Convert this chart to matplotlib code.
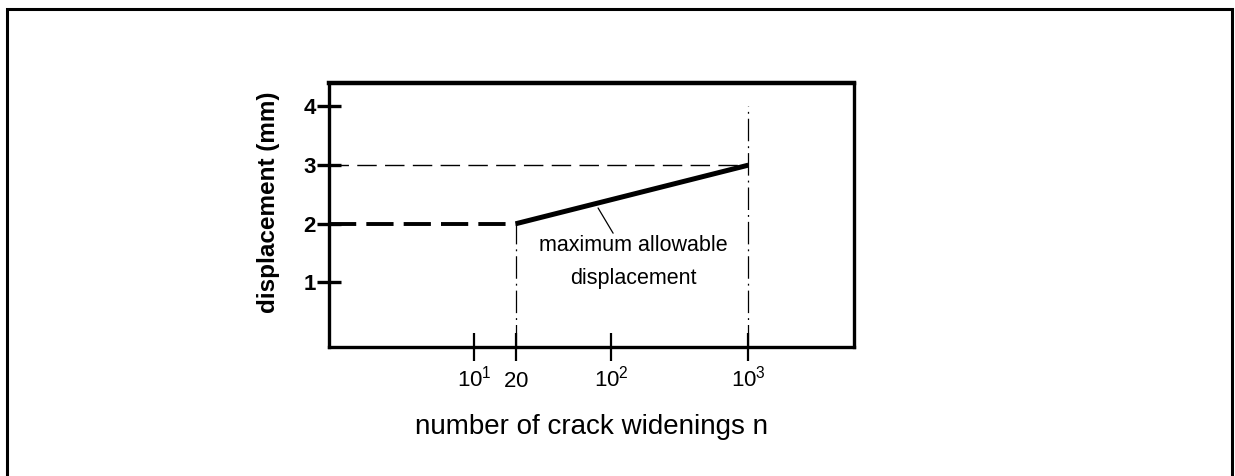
import matplotlib
matplotlib.use("Agg")
import matplotlib.pyplot as plt
from matplotlib.patches import Rectangle

# ---- data ----
n_limit = [20, 1000]          # number of crack widenings
d_limit = [2, 3]              # maximum allowable displacement (mm)
d_plateau = 2                 # displacement below n = 20
d_ref = 3                     # reference level at n = 1000
n_marks = [20, 1000]          # vertical guide positions
d_marks = [2, 4]              # vertical guide tops
xtick_vals = [10, 20, 100, 1000]
xtick_labels = [r"$\mathregular{10^1}$", r"$\mathregular{20}$",
                r"$\mathregular{10^2}$", r"$\mathregular{10^3}$"]
ytick_vals = [1, 2, 3, 4]
ytick_labels = ["1", "2", "3", "4"]

plt.rcParams['font.family'] = ['Liberation Sans', 'DejaVu Sans']
plt.rcParams['mathtext.fontset'] = 'custom'
plt.rcParams['mathtext.rm'] = 'Liberation Sans'

fig = plt.figure(figsize=(12.35, 4.76), dpi=100)
# outer frame
fig.patches.append(Rectangle((7/1235, -0.05), (1232-7)/1235, 1.05 - 9/476,
                             transform=fig.transFigure, fill=False,
                             edgecolor='black', linewidth=2.2, zorder=0))

ax = fig.add_axes([329/1235, 1 - 347/476, (854-329)/1235, (347-83)/476])
ax.set_xscale('log')
ax.set_xlim(0.87, 5900)
ax.set_ylim(-0.1, 4.4)
x_lo = ax.get_xlim()[0]
y_lo = ax.get_ylim()[0]

# thin dashed reference at y=3
ax.plot([x_lo, n_limit[1]], [d_ref, d_ref], color='black', lw=1.0,
        linestyle=(0, (14, 6)), solid_capstyle='butt')
# thick dashed plateau at y=2
ax.plot([x_lo, n_limit[0]], [d_plateau, d_plateau], color='black', lw=2.8,
        linestyle=(0, (7, 2.6)), dash_capstyle='butt')
# dash-dot verticals
for xm, ym in zip(n_marks, d_marks):
    ax.plot([xm, xm], [y_lo, ym], color='black', lw=0.9,
            linestyle=(0, (18, 4, 1.5, 4)))
# thick solid limit line
ax.plot(n_limit, d_limit, color='black', lw=3.6, solid_capstyle='butt')

# leader and label
ax.annotate("", xy=(80, 2.27), xytext=(103, 1.84),
            arrowprops=dict(arrowstyle='-', color='black', lw=0.9,
                            shrinkA=0, shrinkB=0))
ax.text(145, 1.35, "maximum allowable\ndisplacement",
        ha='center', va='center', fontsize=15.5, linespacing=1.8)

ax.set_xticks(xtick_vals)
ax.set_xticklabels(xtick_labels, fontsize=16)
for lbl in ax.get_xticklabels():
    lbl.set_verticalalignment('baseline')
ax.xaxis.set_minor_locator(matplotlib.ticker.NullLocator())
ax.set_yticks(ytick_vals)
ax.set_yticklabels(ytick_labels, fontsize=16, fontweight='bold')
ax.tick_params(axis='x', direction='inout', length=20, width=1.6, pad=18.5)
ax.tick_params(axis='y', direction='inout', length=17, width=2.4, pad=1)

for s in ax.spines.values():
    s.set_linewidth(2.4)
ax.spines['top'].set_linewidth(3.2)

ax.set_xlabel("number of crack widenings n", fontsize=20, labelpad=13)
ax.set_ylabel("displacement (mm)", fontsize=17.5, fontweight='bold')
ax.yaxis.set_label_coords(-0.093, 0.55)
ax.xaxis.set_label_coords(0.5, -0.255)

fig.savefig("out.png", dpi=100)
